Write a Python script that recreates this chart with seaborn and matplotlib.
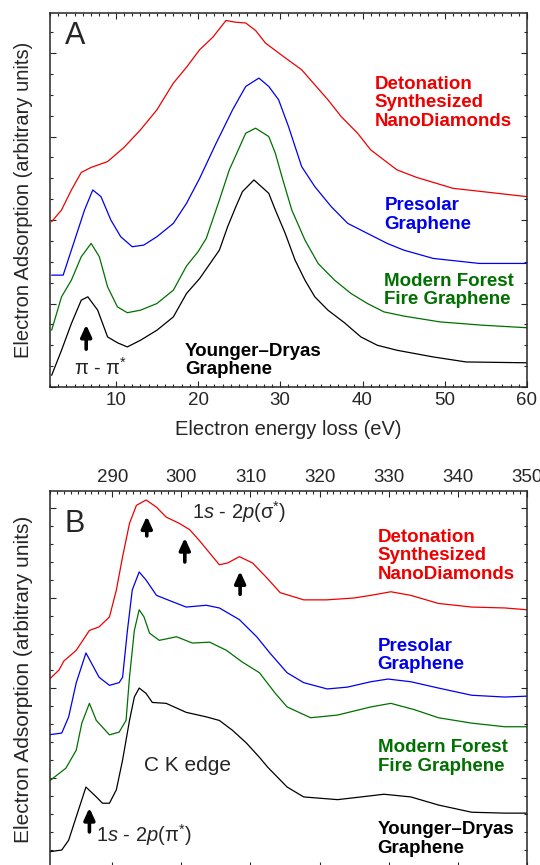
import numpy as np
import matplotlib
matplotlib.use("Agg")
import matplotlib.pyplot as plt
from matplotlib.ticker import MultipleLocator
import seaborn as sns

# 能量损失谱 (EELS) 数据
# A: 低能损失区
a_nd_e = [2.2, 3.4, 4.6, 5.8, 7, 9, 11, 13, 15, 17, 18.6, 20.2, 21.8, 23.4, 24.5, 25.8, 27, 28.2, 30.5,
          32.6, 34.2, 35.8, 37.4, 39.4, 41, 42.6, 44.2, 46.6, 51, 54.6, 60]
a_nd_i = [1.98, 2.12, 2.36, 2.57, 2.63, 2.7, 2.87, 3.08, 3.32, 3.64, 3.83, 4.04, 4.19, 4.39, 4.37, 4.36,
          4.27, 4.12, 3.95, 3.8, 3.62, 3.44, 3.24, 3.04, 2.84, 2.72, 2.6, 2.51, 2.38, 2.34, 2.28]

a_pre_e = [2.2, 3.6, 5, 6.2, 7.2, 8.2, 9.4, 10.6, 12, 13.4, 15, 17, 18.6, 20.2, 22.2, 24.2, 25.8, 27.4,
           28.6, 29.8, 31, 32.6, 34.2, 36.2, 38.2, 40.6, 43, 45, 48.6, 54.2, 60]
a_pre_i = [1.34, 1.34, 1.76, 2.12, 2.36, 2.28, 2.0, 1.8, 1.68, 1.7, 1.8, 1.96, 2.2, 2.5, 2.92, 3.32, 3.6,
           3.7, 3.6, 3.44, 3.12, 2.64, 2.4, 2.16, 1.96, 1.84, 1.72, 1.64, 1.54, 1.48, 1.48]

a_mff_e = [2.2, 3.4, 4.6, 5.8, 7, 8, 9, 10.2, 11.4, 13, 15, 17, 18.6, 20, 21, 22.6, 23.8, 25.8, 27.0, 28.6,
           29.4, 30.2, 31.4, 33, 34.6, 36.6, 38.6, 40.6, 42.6, 45, 49.4, 54.6, 60]
a_mff_i = [0.68, 1.08, 1.28, 1.56, 1.72, 1.56, 1.2, 0.96, 0.89, 0.92, 1.0, 1.16, 1.45, 1.62, 1.78, 2.24,
           2.6, 3.04, 3.1, 3.0, 2.8, 2.52, 2.12, 1.76, 1.48, 1.28, 1.12, 1.0, 0.9, 0.85, 0.78, 0.74, 0.71]

a_yd_e = [2.2, 3.4, 4.6, 5.8, 6.6, 7.8, 9, 10.2, 11.4, 13, 15, 17, 18.6, 20.2, 22.6, 23.6, 24.6, 25.4, 26.8,
          28.6, 29.4, 30.6, 31.8, 33, 34.2, 35.8, 37.8, 39.8, 41.8, 44.2, 48.6, 52.6, 60]
a_yd_i = [0.14, 0.44, 0.76, 1.04, 1.08, 0.92, 0.6, 0.53, 0.48, 0.56, 0.68, 0.84, 1.12, 1.3, 1.64, 1.92,
          2.16, 2.34, 2.48, 2.32, 2.12, 1.84, 1.52, 1.28, 1.08, 0.92, 0.77, 0.6, 0.5, 0.44, 0.36, 0.3, 0.29]

# B: C K 边
b_nd_e = [280.8, 282.3, 283.0, 284.8, 286.7, 288.1, 289.6, 290.6, 291.5, 292.5, 293.5, 294.9, 296.4, 297.8,
          299.7, 301.2, 302.6, 304.1, 305.5, 306.7, 308.4, 310.3, 312.3, 314.3, 317.7, 321, 324.9, 327.4,
          330.3, 333.2, 337.2, 342, 346.8, 350]
b_nd_i = [2.09, 2.2, 2.3, 2.42, 2.64, 2.68, 2.79, 3.09, 3.46, 3.83, 4.03, 4.09, 4.01, 3.9, 3.83, 3.76, 3.64,
          3.5, 3.37, 3.39, 3.46, 3.39, 3.23, 3.06, 2.98, 2.98, 3.0, 3.03, 3.07, 3.03, 2.94, 2.9, 2.89, 2.87]

b_pre_e = [280.8, 282.7, 283.7, 284.8, 286.2, 288.1, 289.6, 291, 291.5, 292.2, 292.9, 293.9, 294.9, 296.4,
           298.7, 300.7, 303.6, 305.5, 308.4, 310.9, 312.8, 315.3, 317.7, 321.1, 324, 327.4, 329.9, 333.2,
           337.2, 342, 346.8, 350]
b_pre_i = [1.48, 1.5, 1.68, 2.06, 2.39, 2.12, 2.03, 2.06, 2.12, 2.64, 3.09, 3.29, 3.2, 3.03, 2.96, 2.9, 2.92,
           2.89, 2.76, 2.57, 2.39, 2.17, 2.06, 1.99, 2.01, 2.07, 2.1, 2.07, 2.0, 1.92, 1.9, 1.91]

b_mff_e = [280.8, 283.3, 284.8, 285.6, 286.7, 287.7, 289.6, 291, 292, 292.5, 293.2, 293.9, 294.6, 295.4,
           296.8, 299.3, 301.6, 304.1, 306.5, 308.8, 311.3, 313.5, 315.3, 318.7, 322.6, 327.4, 330.3, 333.7,
           337.2, 342, 346.8, 350]
b_mff_i = [0.96, 1.11, 1.31, 1.61, 1.83, 1.64, 1.48, 1.51, 1.64, 2.12, 2.64, 2.87, 2.79, 2.61, 2.53, 2.57,
           2.5, 2.51, 2.42, 2.29, 2.17, 1.95, 1.79, 1.67, 1.7, 1.79, 1.83, 1.76, 1.67, 1.61, 1.57, 1.57]

b_yd_e = [280.8, 282.7, 283.7, 284.8, 286.2, 287.7, 288.6, 289.6, 290.6, 291.5, 292.5, 293.2, 293.9, 294.9,
          295.8, 297.8, 300.7, 303.6, 305.5, 307.4, 309.4, 311.3, 312.5, 315.3, 317.7, 322.6, 326, 329.3,
          333.2, 337.2, 342, 346.8, 350]
b_yd_i = [0.18, 0.2, 0.31, 0.57, 0.9, 0.79, 0.72, 0.72, 0.87, 1.2, 1.64, 1.9, 2.0, 1.94, 1.84, 1.83, 1.73,
          1.68, 1.64, 1.53, 1.39, 1.23, 1.12, 0.9, 0.79, 0.76, 0.79, 0.82, 0.79, 0.7, 0.62, 0.61, 0.61]

names = ['Detonation\nSynthesized\nNanoDiamonds', 'Presolar\nGraphene',
         'Modern Forest\nFire Graphene', 'Younger\u2013Dryas\nGraphene']
colors = ['#ee0000', '#0000ee', '#007000', '#000000']

sns.set_style("ticks")
plt.rcParams['font.family'] = ['Liberation Sans', 'DejaVu Sans']
plt.rcParams['mathtext.fontset'] = 'custom'
plt.rcParams['mathtext.rm'] = 'Liberation Sans'
plt.rcParams['mathtext.it'] = 'Liberation Sans:italic'
plt.rcParams['axes.linewidth'] = 1.1

fig = plt.figure(figsize=(5.4, 8.65), dpi=100)
axA = fig.add_axes([0.0926, 0.5526, 0.8833, 0.4324])
axB = fig.add_axes([0.0926, -0.0035, 0.8833, 0.4359])


def style_axis(ax):
    ax.tick_params(which='both', direction='in', top=True, right=True, left=True, bottom=True,
                   labelleft=False, labelsize=13.5, width=0.8)
    ax.tick_params(which='major', length=4)
    ax.tick_params(which='minor', length=2.3)
    ax.set_facecolor('white')


def draw(ax, series):
    for (e, i), c in zip(series, colors):
        sns.lineplot(x=e, y=i, color=c, lw=0.9, ax=ax, sort=False, estimator=None)


# ---- A ----
draw(axA, [(a_nd_e, a_nd_i), (a_pre_e, a_pre_i), (a_mff_e, a_mff_i), (a_yd_e, a_yd_i)])
axA.set_xlim(2, 60)
axA.set_ylim(0, 4.48)
axA.xaxis.set_major_locator(MultipleLocator(10))
axA.xaxis.set_minor_locator(MultipleLocator(1))
axA.yaxis.set_major_locator(MultipleLocator(1))
axA.yaxis.set_minor_locator(MultipleLocator(0.25))
style_axis(axA)
axA.set_xlabel('Electron energy loss (eV)', fontsize=14.5, labelpad=8)
axA.set_ylabel('Electron Adsorption (arbitrary units)', fontsize=14.5, labelpad=12)

axA.text(0.031, 0.978, 'A', transform=axA.transAxes, fontsize=22, va='top', ha='left')
a_lab_pos = [(41.45, 3.73), (42.65, 2.27), (42.65, 1.37), (18.4, 0.53)]
for (x, y), t, c in zip(a_lab_pos, names, colors):
    axA.text(x, y, t, color=c, fontsize=13.5, fontweight='bold', va='top', ha='left', linespacing=1.12)
axA.annotate('', xy=(6.4, 0.78), xytext=(6.4, 0.42),
             arrowprops=dict(arrowstyle='-|>,head_width=0.32,head_length=0.7', color='black', lw=2.6))
axA.text(8.1, 0.23, '\u03c0 - \u03c0$^{*}$', fontsize=14.5, ha='center', va='center')

# ---- B ----
draw(axB, [(b_nd_e, b_nd_i), (b_pre_e, b_pre_i), (b_mff_e, b_mff_i), (b_yd_e, b_yd_i)])
axB.set_xlim(281, 350)
axB.set_ylim(0, 4.19)
axB.xaxis.set_major_locator(MultipleLocator(10))
axB.xaxis.set_minor_locator(MultipleLocator(1))
axB.yaxis.set_major_locator(MultipleLocator(1))
axB.yaxis.set_minor_locator(MultipleLocator(0.2))
style_axis(axB)
axB.tick_params(labeltop=True, labelbottom=False)
axB.set_xticks([290, 300, 310, 320, 330, 340, 350])
axB.set_ylabel('Electron Adsorption (arbitrary units)', fontsize=15, labelpad=12)

axB.text(0.031, 0.952, 'B', transform=axB.transAxes, fontsize=22, va='top', ha='left')
b_lab_pos = [(328.4, 3.77), (328.4, 2.56), (328.4, 1.43), (328.4, 0.52)]
for (x, y), t, c in zip(b_lab_pos, names, colors):
    axB.text(x, y, t, color=c, fontsize=13.5, fontweight='bold', va='top', ha='left', linespacing=1.12)

arrow_kw = dict(arrowstyle='-|>,head_width=0.32,head_length=0.7', color='black', lw=2.6)
for x, y0, y1 in [(295.0, 3.66, 3.94), (300.5, 3.37, 3.70), (308.5, 3.01, 3.33), (286.7, 0.37, 0.70)]:
    axB.annotate('', xy=(x, y1), xytext=(x, y0), arrowprops=arrow_kw)
axB.text(301.6, 3.96, '1$\\it{s}$ - 2$\\it{p}$(\u03c3$^{*}$)', fontsize=14.5, ha='left', va='center')
axB.text(287.7, 0.37, '1$\\it{s}$ - 2$\\it{p}$(\u03c0$^{*}$)', fontsize=14.5, ha='left', va='center')
axB.text(300.9, 1.14, 'C K edge', fontsize=15, ha='center', va='center')

fig.savefig('out.png', dpi=100)
plt.close(fig)
